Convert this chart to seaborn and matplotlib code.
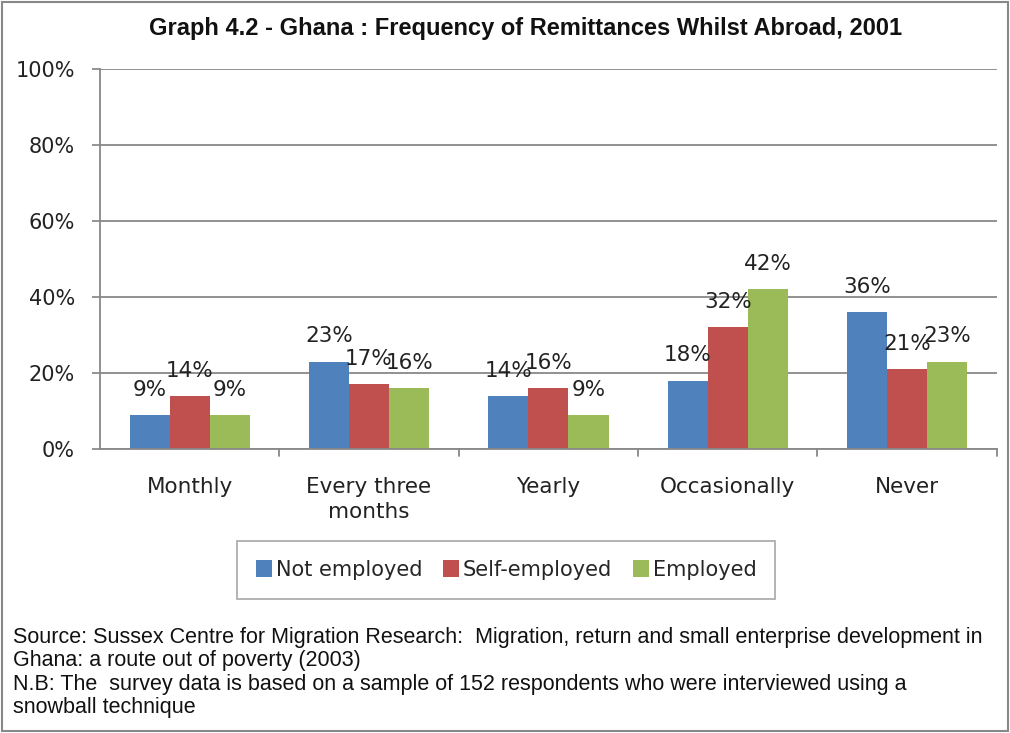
import matplotlib
matplotlib.use("Agg")
import matplotlib.pyplot as plt
import seaborn as sns
import pandas as pd
import numpy as np
from matplotlib.patches import Rectangle

categories = ["Monthly", "Every three\nmonths", "Yearly", "Occasionally", "Never"]
series_names = ["Not employed", "Self-employed", "Employed"]
not_employed = [9, 23, 14, 18, 36]
self_employed = [14, 17, 16, 32, 21]
employed = [9, 16, 9, 42, 23]
colors = ["#4F81BD", "#C0504D", "#9BBB59"]

title = "Graph 4.2 - Ghana : Frequency of Remittances Whilst Abroad, 2001"
source = ("Source: Sussex Centre for Migration Research:  Migration, return and small enterprise development in\n"
          "Ghana: a route out of poverty (2003)\n"
          "N.B: The  survey data is based on a sample of 152 respondents who were interviewed using a\n"
          "snowball technique")

rows = []
for name, vals in zip(series_names, [not_employed, self_employed, employed]):
    for c, v in zip(categories, vals):
        rows.append({"cat": c, "series": name, "value": v})
df = pd.DataFrame(rows)

sns.set_theme(style="white")
plt.rcParams['font.family'] = ['DejaVu Sans']

fig = plt.figure(figsize=(10.10, 7.33), dpi=100)
ax = fig.add_axes([0.099, 0.3874, 0.888, 0.5184])

sns.barplot(data=df, x="cat", y="value", hue="series", palette=colors,
            width=0.67, ax=ax, saturation=1, legend=True, edgecolor="none")

for cont in ax.containers:
    ax.bar_label(cont, labels=[f"{int(round(b.get_height()))}%" for b in cont],
                 padding=11, fontsize=15.5, color="#222222")

ax.set_ylim(0, 100)
ax.set_xlim(-0.5, 4.5)
ax.set_yticks(range(0, 101, 20))
ax.set_yticklabels([f"{v}%" for v in range(0, 101, 20)], fontsize=15, color="#222222")
ax.tick_params(axis="x", labelsize=15.5, colors="#222222", length=0, pad=20)
ax.tick_params(axis="y", length=6, color="#888888", direction="out", left=True, pad=12)
for t in ax.get_xticklabels():
    t.set_linespacing(1.3)
ax.set_xlabel("")
ax.set_ylabel("")
ax.yaxis.grid(True, color="#888888", linewidth=1.3)
ax.set_axisbelow(True)
for s in ["top", "right"]:
    ax.spines[s].set_visible(False)
for s in ["left", "bottom"]:
    ax.spines[s].set_color("#888888")
    ax.spines[s].set_linewidth(1.3)
# category separator ticks
for xb in np.arange(0.5, 5.0, 1.0):
    ax.plot([xb, xb], [0, -1.8], color="#888888", lw=1.3, clip_on=False)

leg = ax.legend(loc="center", bbox_to_anchor=(0.453, -0.318), ncol=3, frameon=True,
                fontsize=15, handlelength=0.75, handleheight=0.9, handletextpad=0.2,
                columnspacing=1.0, borderpad=0.9, fancybox=False)
leg.get_frame().set_edgecolor("#999999")
leg.get_frame().set_linewidth(1.3)

fig.text(0.52, 0.961, title, ha="center", va="center", fontsize=17,
         fontweight="bold", family=["Liberation Sans", "DejaVu Sans"], color="#111111")

fig.text(0.013, 0.1446, source, ha="left", va="top", fontsize=15.5,
         family=["Liberation Sans", "DejaVu Sans"], color="#111111", linespacing=1.15)

fig.patches.append(Rectangle((0.002, 0.003), 0.996, 0.994, transform=fig.transFigure,
                             fill=False, edgecolor="#888888", linewidth=1.5))

fig.savefig("out.png", dpi=100)
